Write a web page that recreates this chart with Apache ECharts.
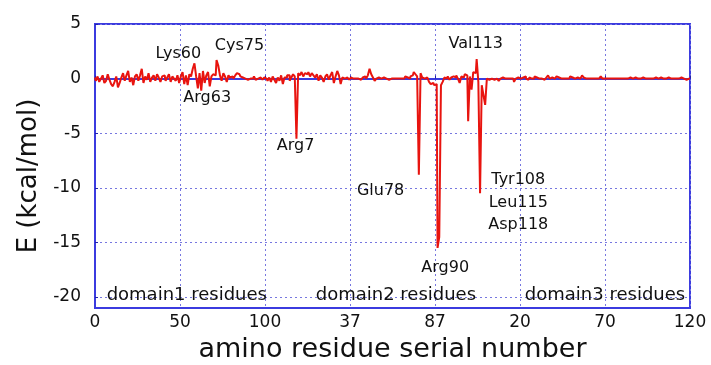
<!DOCTYPE html>
<html>
<head>
<meta charset="utf-8">
<script src="https://cdn.jsdelivr.net/npm/echarts@6/dist/echarts.min.js"></script>
<style>
  html, body { margin: 0; padding: 0; background: #fff; }
  #main { width: 711px; height: 365px; }
</style>
</head>
<body>
<div id="main"></div>
<script>
// tick labels on the serial axis (every 50 serial positions)
var xTickLabels = ['0', '50', '100', '37', '87', '20', '70', '120'];
var yTickValues = [-20, -15, -10, -5, 0, 5];

// interaction energy per residue
var domain1Values = [
  0.1, -0.2, 0.2, -0.3, 0.0, 0.3, -0.4, -0.2, 0.4, -0.1,
  -0.5, -0.7, -0.3, 0.2, -0.8, -0.4, 0.1, 0.5, -0.2, 0.3,
  0.7, -0.3, 0.1, -0.6, 0.2, 0.4, -0.2, 0.3, 0.9, -0.4,
  0.2, -0.1, 0.5, -0.3, 0.1, 0.3, -0.2, 0.4, 0.1, -0.3,
  0.2, 0.3, -0.2, 0.1, 0.4, -0.3, 0.2, 0.0, -0.2, 0.3,
  -0.4, 0.2, 0.6, -0.5, 0.3, -0.6, 0.4, 0.2, 0.9, 1.4,
  0.2, -0.9, 0.5, -1.1, 0.7, -0.4, 0.3, 0.6, -0.7, 0.2,
  0.4, 0.3, 1.7, 1.2, 0.3, -0.2, 0.5, 0.2, -0.3, 0.3,
  0.1, 0.2, 0.0, 0.3, 0.5, 0.4, 0.2, 0.1, 0.0, 0.1,
  -0.1, 0.0, 0.1, 0.0, 0.2, -0.1, 0.0, 0.1, 0.0, -0.1,
  0.1, 0.0, -0.2, 0.1, -0.3, 0.2, -0.1, -0.4, 0.1, -0.2,
  0.3, -0.5, 0.1
];
var domain2Values = [
  0.3, -0.2, 0.1, 0.4, 0.2, -5.5, 0.5, 0.3, 0.6, 0.2,
  0.5, 0.4, 0.6, 0.2, 0.5, 0.3, 0.1, 0.4, -0.2, 0.3,
  0.1, -0.3, 0.2, 0.4, -0.1, 0.3, 0.6, -0.4, 0.2, 0.7,
  0.3, -0.5, 0.1, 0.0, 0.1, 0.0, -0.1, 0.1, 0.0, 0.0,
  0.1, 0.0, -0.1, 0.0, 0.1, 0.2, 0.0, 0.3, 0.9, 0.4,
  0.1, -0.2, 0.0, 0.1, 0.0, 0.0, 0.1, 0.0, 0.0, -0.1,
  0.0, 0.1, 0.0, 0.0, 0.1, 0.0, 0.0, 0.1, 0.0, 0.2,
  0.1, 0.0, 0.2, 0.3, 0.6, 0.4, 0.2, -8.8, 0.5, 0.1,
  0.0, 0.1, 0.2, -0.3, -0.5, -0.4, -0.6, -0.5, -15.5, -14.5,
  -0.6, -0.3, 0.1, 0.0, 0.2, -0.1, 0.1, 0.2, 0.1, 0.3,
  0.0, -0.4, 0.2, 0.1, 0.4, 0.3, -3.9, 0.2, -1.0, 0.6,
  0.5, 1.8, -0.3, -10.5, -0.6, -1.5, -2.4
];
var domain3Values = [
  0.0, -0.1, 0.0, 0.1, -0.1, 0.0, 0.0, -0.2, 0.0, 0.1,
  0.0, -0.1, 0.0, 0.0, 0.1, 0.0, -0.3, 0.0, 0.1, 0.0,
  0.0, 0.1, 0.2, 0.0, -0.1, 0.1, 0.0, 0.0, 0.2, 0.1,
  0.0, 0.1, 0.0, -0.1, 0.0, 0.1, 0.3, 0.0, 0.1, 0.0,
  0.0, 0.2, 0.1, 0.0, 0.1, 0.0, 0.0, 0.1, 0.0, 0.2,
  0.1, 0.0, 0.0, 0.1, 0.0, 0.0, 0.3, 0.1, 0.0, 0.0,
  0.1, 0.0, 0.0, 0.1, 0.0, 0.0, 0.1, 0.2, 0.0, 0.0,
  0.0, 0.1, 0.0, 0.0, 0.1, 0.0, 0.0, 0.1, 0.0, 0.0,
  0.1, 0.0, 0.0, 0.0, 0.1, 0.0, 0.0, 0.1, 0.0, 0.0,
  0.0, 0.1, 0.0, 0.0, 0.0, 0.1, 0.0, 0.0, 0.0, 0.1,
  0.0, 0.0, 0.1, 0.0, 0.0, 0.0, 0.1, 0.0, 0.0, 0.0,
  0.1, 0.0, 0.0, 0.0, 0.1, 0.0, 0.0, -0.1, 0.0, 0.0
];
var residueNames = ['Lys60', 'Cys75', 'Arg63', 'Arg7', 'Val113', 'Glu78', 'Arg90', 'Tyr108', 'Leu115', 'Asp118'];
var domainNames = ['domain1 residues', 'domain2 residues', 'domain3 residues'];

// serial positions: domains are laid end to end
var serialData = [];
domain1Values.forEach(function (v, i) { serialData.push([i, v]); });
domain2Values.forEach(function (v, i) { serialData.push([113 + i + 1, v]); });
domain3Values.forEach(function (v, i) { serialData.push([230 + i + 1, v]); });

var blue = '#3b3bdf';
var font = 'DejaVu Sans';

// where the labels sit, in axis units
var residueSpots = [[49, 2.3], [85, 3.0], [66, -1.8], [118, -6.2], [224, 3.2],
  [168, -10.3], [206, -17.3], [249, -9.3], [249, -11.4], [249, -13.4]];
var domainSpots = [[54, -19.8], [177, -19.8], [300, -19.8]];

var markData = [];
residueNames.forEach(function (n, i) {
  markData.push({ name: n, coord: residueSpots[i], label: { fontSize: 16 } });
});
domainNames.forEach(function (n, i) {
  markData.push({ name: n, coord: domainSpots[i], label: { fontSize: 18 } });
});

var chart = echarts.init(document.getElementById('main'));
chart.setOption({
  animation: false,
  backgroundColor: '#fff',
  grid: {
    left: 95, right: 21, top: 24, bottom: 57, outerBoundsMode: 'none',
    show: true, borderColor: blue, borderWidth: 2
  },
  xAxis: {
    type: 'value', min: 0, max: 350, interval: 50,
    name: 'amino residue serial number', nameLocation: 'middle', nameGap: 28,
    nameTextStyle: { fontFamily: font, fontSize: 27, color: '#111' },
    axisLine: { show: true, lineStyle: { color: blue, width: 2 } },
    axisTick: { inside: true, length: 3, lineStyle: { color: '#2222aa' } },
    axisLabel: {
      fontFamily: font, fontSize: 17, color: '#111', margin: 6,
      formatter: function (v) { return xTickLabels[Math.round(v / 50)]; }
    },
    splitLine: { show: true, lineStyle: { color: '#7777e0', type: [2, 3], width: 1 } }
  },
  yAxis: {
    type: 'value', min: -21, max: 5,
    name: 'E (kcal/mol)', nameLocation: 'middle', nameGap: 50, nameRotate: 90,
    nameTextStyle: { fontFamily: font, fontSize: 26, color: '#111', padding: [0, 20, 0, 0] },
    axisLine: { show: true, lineStyle: { color: blue, width: 2 } },
    axisTick: { inside: true, length: 3, customValues: yTickValues, lineStyle: { color: '#2222aa' } },
    axisLabel: { fontFamily: font, fontSize: 17, color: '#111', margin: 14, customValues: yTickValues },
    splitLine: { show: true, lineStyle: { color: '#7777e0', type: [2, 3], width: 1 } }
  },
  series: [{
    type: 'line',
    data: serialData,
    step: 'middle',
    showSymbol: false,
    lineStyle: { color: '#e8140f', width: 2 },
    markPoint: {
      symbolSize: 0,
      label: { show: true, position: 'inside', formatter: '{b}', color: '#111', fontFamily: font },
      data: markData
    }
  }]
});
</script>
</body>
</html>
